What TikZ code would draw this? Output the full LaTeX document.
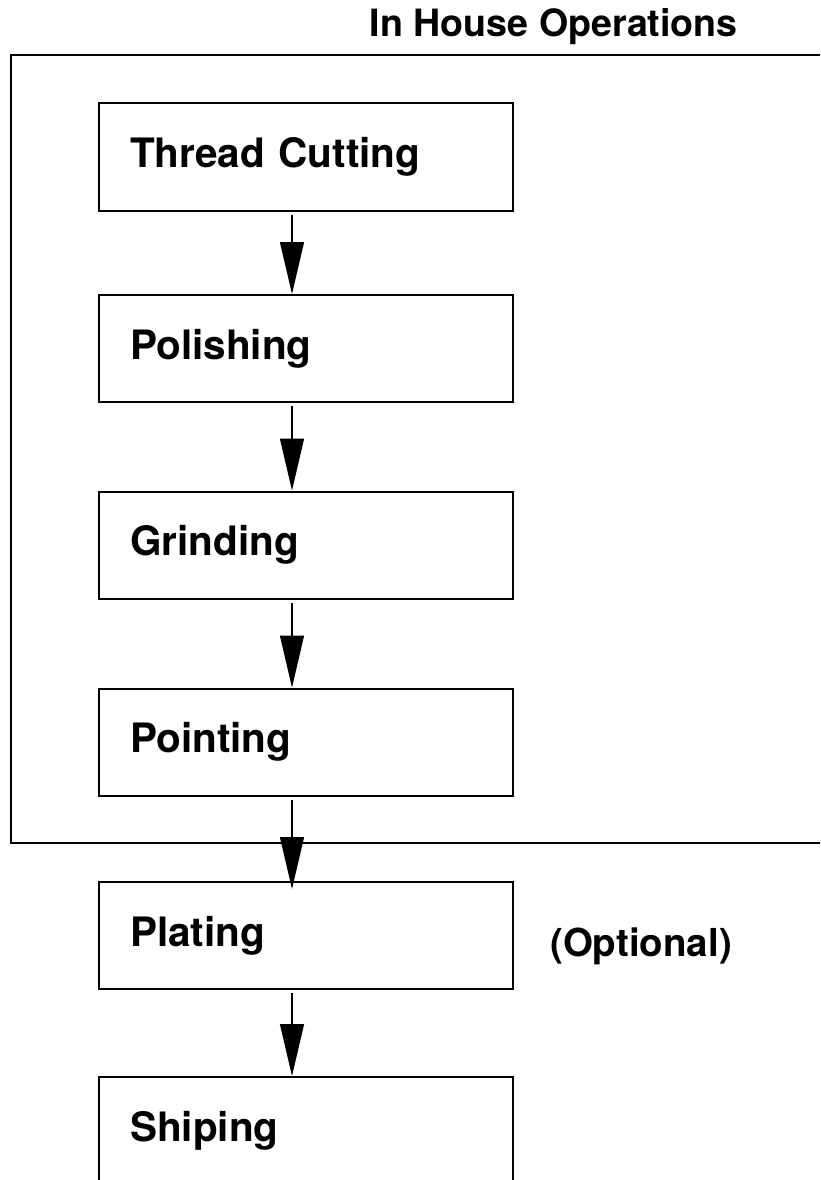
\documentclass[tikz,border=0pt]{standalone}
\usepackage{fontspec}
\setmainfont{TeX Gyre Heros}
\usetikzlibrary{arrows.meta}

\begin{document}
\begin{tikzpicture}[x=1pt,y=-1pt,
  opbox/.style={draw,line width=2pt,minimum width=414pt,minimum height=107pt,
    text width=352pt,inner xsep=31pt,align=left,
    font=\bfseries\fontsize{40.5}{44}\selectfont},
  flow/.style={line width=1.3pt,shorten <=3pt,-{Triangle[length=52pt,width=24pt]}}]
\clip (0,0) rectangle (820,1180);
\fill[white] (0,0) rectangle (820,1180);
% frame of the in house part, open to the right
\draw[line width=2pt] (840,55) -| (11,843) -- (840,843);
\node[anchor=base east,inner sep=0,font=\bfseries\fontsize{37.6}{40}\selectfont] (title) at (738,37) {In House Operations};
\foreach \n/\t/\y in {cut/Thread Cutting/157,pol/Polishing/348.5,gri/Grinding/545,
  poi/Pointing/742,pla/Plating/935.5,shi/Shiping/1130.5}
  \node[opbox] (\n) at (306,\y) {\t};
\node[anchor=base west,inner sep=0,font=\bfseries\fontsize{38.5}{42}\selectfont] (opt) at (550,956) {(Optional)};
\foreach \a/\b in {cut/pol,pol/gri,gri/poi,pla/shi}
  \draw[flow] ([xshift=-14pt]\a.south) -- ([xshift=-14pt]\b.north);
\draw[flow,shorten >=-8pt] ([xshift=-14pt]poi.south) -- ([xshift=-14pt]pla.north);
\end{tikzpicture}
\end{document}
